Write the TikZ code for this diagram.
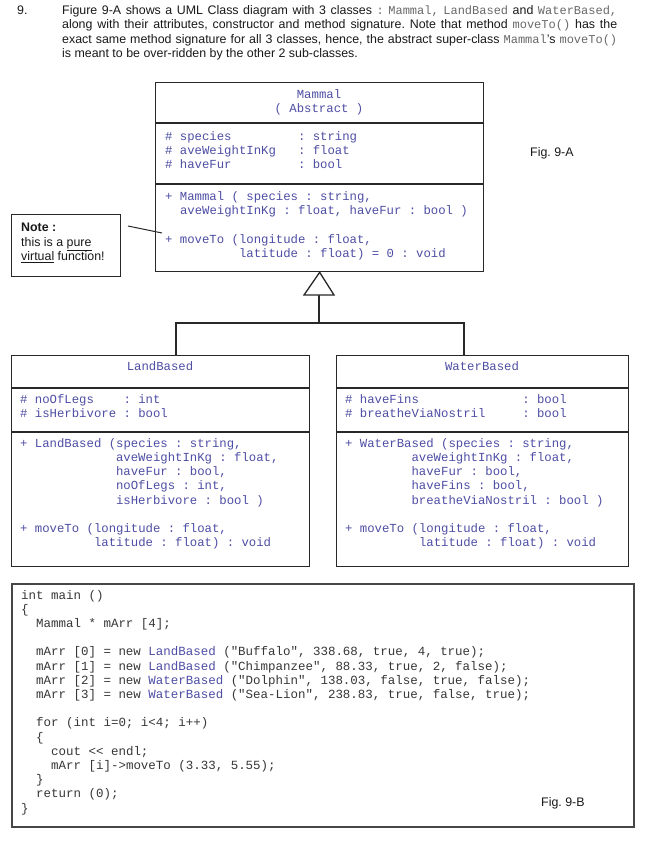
\documentclass[tikz,border=0pt]{standalone}
\usepackage{fontspec}
\setmainfont{Liberation Sans}
\newfontfamily\monof{Liberation Mono}[Ligatures=TeXOff]
\definecolor{umlc}{RGB}{78,78,165}
\definecolor{codec}{RGB}{55,55,55}
\definecolor{parmono}{RGB}{105,105,105}
\definecolor{boxc}{RGB}{40,40,40}
\definecolor{codebox}{RGB}{70,70,70}
\definecolor{textc}{RGB}{25,25,25}
\newcommand\mtxt[1]{{\monof\fontsize{12}{14}\selectfont\color{parmono}#1}}
\frenchspacing
\begin{document}
\begin{tikzpicture}[x=1pt,y=-1pt,
  box/.style={draw=boxc, line width=1.3pt, inner sep=0pt, anchor=north west},
  ut/.style={font=\monof\fontsize{12.3}{14}\selectfont, text=umlc, inner sep=0pt, anchor=base west},
  ct/.style={font=\monof\fontsize{12.47}{14}\selectfont, text=codec, inner sep=0pt, anchor=base west},
  atxt/.style={font=\fontsize{12.4}{14.3}\selectfont, text=textc, inner sep=0pt, anchor=base west},
  divl/.style={draw=boxc, line width=1.3pt},
  thdiv/.style={draw=boxc, line width=2pt},
  conn/.style={draw=boxc, line width=1.3pt}]
\fill[white] (0,0) rectangle (647,843);
\useasboundingbox (0,0) rectangle (647,843);

% ---------- paragraph ----------
\node[atxt] (num) at (17,14.5) {9.};
\node[atxt] (p1) at (62,14.5) {\makebox[555pt][s]{Figure 9-A shows a UML Class diagram with 3 classes \mtxt{:} \mtxt{Mammal,} \mtxt{LandBased} and \mtxt{WaterBased,}}};
\node[atxt] (p2) at (62,28.8) {\makebox[555pt][s]{along with their attributes, constructor and method signature. Note that method \mtxt{moveTo()} has the}};
\node[atxt] (p3) at (62,43.1) {\makebox[555pt][s]{exact same method signature for all 3 classes, hence, the abstract super-class \mtxt{Mammal}'s \mtxt{moveTo()}}};
\node[atxt] (p4) at (62,57.4) {is meant to be over-ridden by the other 2 sub-classes.};

% ---------- Mammal ----------
\node[box, minimum width=328pt, minimum height=189pt] (mammal) at (155,82) {};
\draw[divl] (155,123) -- (483,123);
\draw[divl] (155,184) -- (483,184);
\node[ut, anchor=base] (mt1) at (319,99) {Mammal};
\node[ut, anchor=base] (mt2) at (319,112) {( Abstract )};
\node[ut] (ma1) at (165,140) {\# species~~~~~~~~~: string};
\node[ut] (ma2) at (165,154) {\# aveWeightInKg~~~: float};
\node[ut] (ma3) at (165,168) {\# haveFur~~~~~~~~~: bool};
\node[ut] (mm1) at (165,200) {+ Mammal ( species : string,};
\node[ut] (mm2) at (179.8,214) {aveWeightInKg : float, haveFur : bool )};
\node[ut] (mm3) at (165,243) {+ moveTo (longitude : float,};
\node[ut] (mm4) at (238.8,257) {latitude : float) = 0 : void};

\node[atxt] (figA) at (530,156) {Fig. 9-A};

% ---------- Note ----------
\node[box, line width=1.1pt, minimum width=109pt, minimum height=62pt] (note) at (11,214) {};
\node[atxt] (n1) at (21,231.5) {\bfseries Note :};
\node[atxt] (n2) at (21,246) {this is a \underline{pure}};
\node[atxt] (n3) at (21,260.3) {\underline{virtual} function!};
\coordinate (nA) at (128,226);
\coordinate (nB) at (162,233);
\draw[draw=boxc, line width=1pt] (nA) -- (nB);

% ---------- inheritance ----------
\coordinate (tb) at (319,295);
\coordinate (jn) at (319,323);
\coordinate (lt) at (176,355);
\coordinate (wt) at (464,355);
\draw[conn] (tb) -- (jn);
\draw[conn] (jn) -| (lt);
\draw[conn] (jn) -| (wt);
\draw[conn, fill=white, line join=miter] (mammal.south) -- ([xshift=-15pt]tb) -- ([xshift=15pt]tb) -- cycle;

% ---------- LandBased ----------
\node[box, minimum width=298pt, minimum height=211pt] (land) at (11,355) {};
\draw[divl] (11,388) -- (309,388);
\draw[thdiv] (11,432) -- (309,432);
\node[ut, anchor=base] (lt1) at (160,370) {LandBased};
\node[ut] (la1) at (20,403.3) {\# noOfLegs~~~~: int};
\node[ut] (la2) at (20,417.3) {\# isHerbivore : bool};
\node[ut] (lm1) at (20,447.3) {+ LandBased (species : string,};
\node[ut] (lm2) at (115.9,461.5) {aveWeightInKg : float,};
\node[ut] (lm3) at (115.9,475.7) {haveFur : bool,};
\node[ut] (lm4) at (115.9,489.9) {noOfLegs : int,};
\node[ut] (lm5) at (115.9,504) {isHerbivore : bool )};
\node[ut] (lm6) at (20,532.3) {+ moveTo (longitude : float,};
\node[ut] (lm7) at (93.8,546) {latitude : float) : void};

% ---------- WaterBased ----------
\node[box, minimum width=292pt, minimum height=211pt] (water) at (336,355) {};
\draw[divl] (336,388) -- (628,388);
\draw[thdiv] (336,432) -- (628,432);
\node[ut, anchor=base] (wt1) at (482,370) {WaterBased};
\node[ut] (wa1) at (345,403.3) {\# haveFins~~~~~~~~~~~~~~: bool};
\node[ut] (wa2) at (345,417.3) {\# breatheViaNostril~~~~~: bool};
\node[ut] (wm1) at (345,447.3) {+ WaterBased (species : string,};
\node[ut] (wm2) at (411.4,461.5) {aveWeightInKg : float,};
\node[ut] (wm3) at (411.4,475.7) {haveFur : bool,};
\node[ut] (wm4) at (411.4,489.9) {haveFins : bool,};
\node[ut] (wm5) at (411.4,504) {breatheViaNostril : bool )};
\node[ut] (wm6) at (345,532.3) {+ moveTo (longitude : float,};
\node[ut] (wm7) at (418.8,546) {latitude : float) : void};

% ---------- code ----------
\node[box, draw=codebox, line width=1.5pt, minimum width=622pt, minimum height=243pt] (code) at (11,583) {};
\node[ct] (c1) at (21,599) {int main ()};
\node[ct] (c2) at (21,613.2) {\{};
\node[ct] (c3) at (36,627.4) {Mammal * mArr [4];};
\node[ct] (c4) at (36,655.8) {mArr [0] = new \textcolor{umlc}{LandBased} ("Buffalo", 338.68, true, 4, true);};
\node[ct] (c5) at (36,670) {mArr [1] = new \textcolor{umlc}{LandBased} ("Chimpanzee", 88.33, true, 2, false);};
\node[ct] (c6) at (36,684.2) {mArr [2] = new \textcolor{umlc}{WaterBased} ("Dolphin", 138.03, false, true, false);};
\node[ct] (c7) at (36,698.4) {mArr [3] = new \textcolor{umlc}{WaterBased} ("Sea-Lion", 238.83, true, false, true);};
\node[ct] (c8) at (36,726.8) {for (int i=0; i<4; i++)};
\node[ct] (c9) at (36,741) {\{};
\node[ct] (c10) at (51,755.2) {cout \textless\textless\ endl;};
\node[ct] (c11) at (51,769.4) {mArr [i]->moveTo (3.33, 5.55);};
\node[ct] (c12) at (36,783.6) {\}};
\node[ct] (c13) at (36,797.8) {return (0);};
\node[ct] (c14) at (21,812) {\}};
\node[atxt] (figB) at (541,806) {Fig. 9-B};
\end{tikzpicture}
\end{document}
